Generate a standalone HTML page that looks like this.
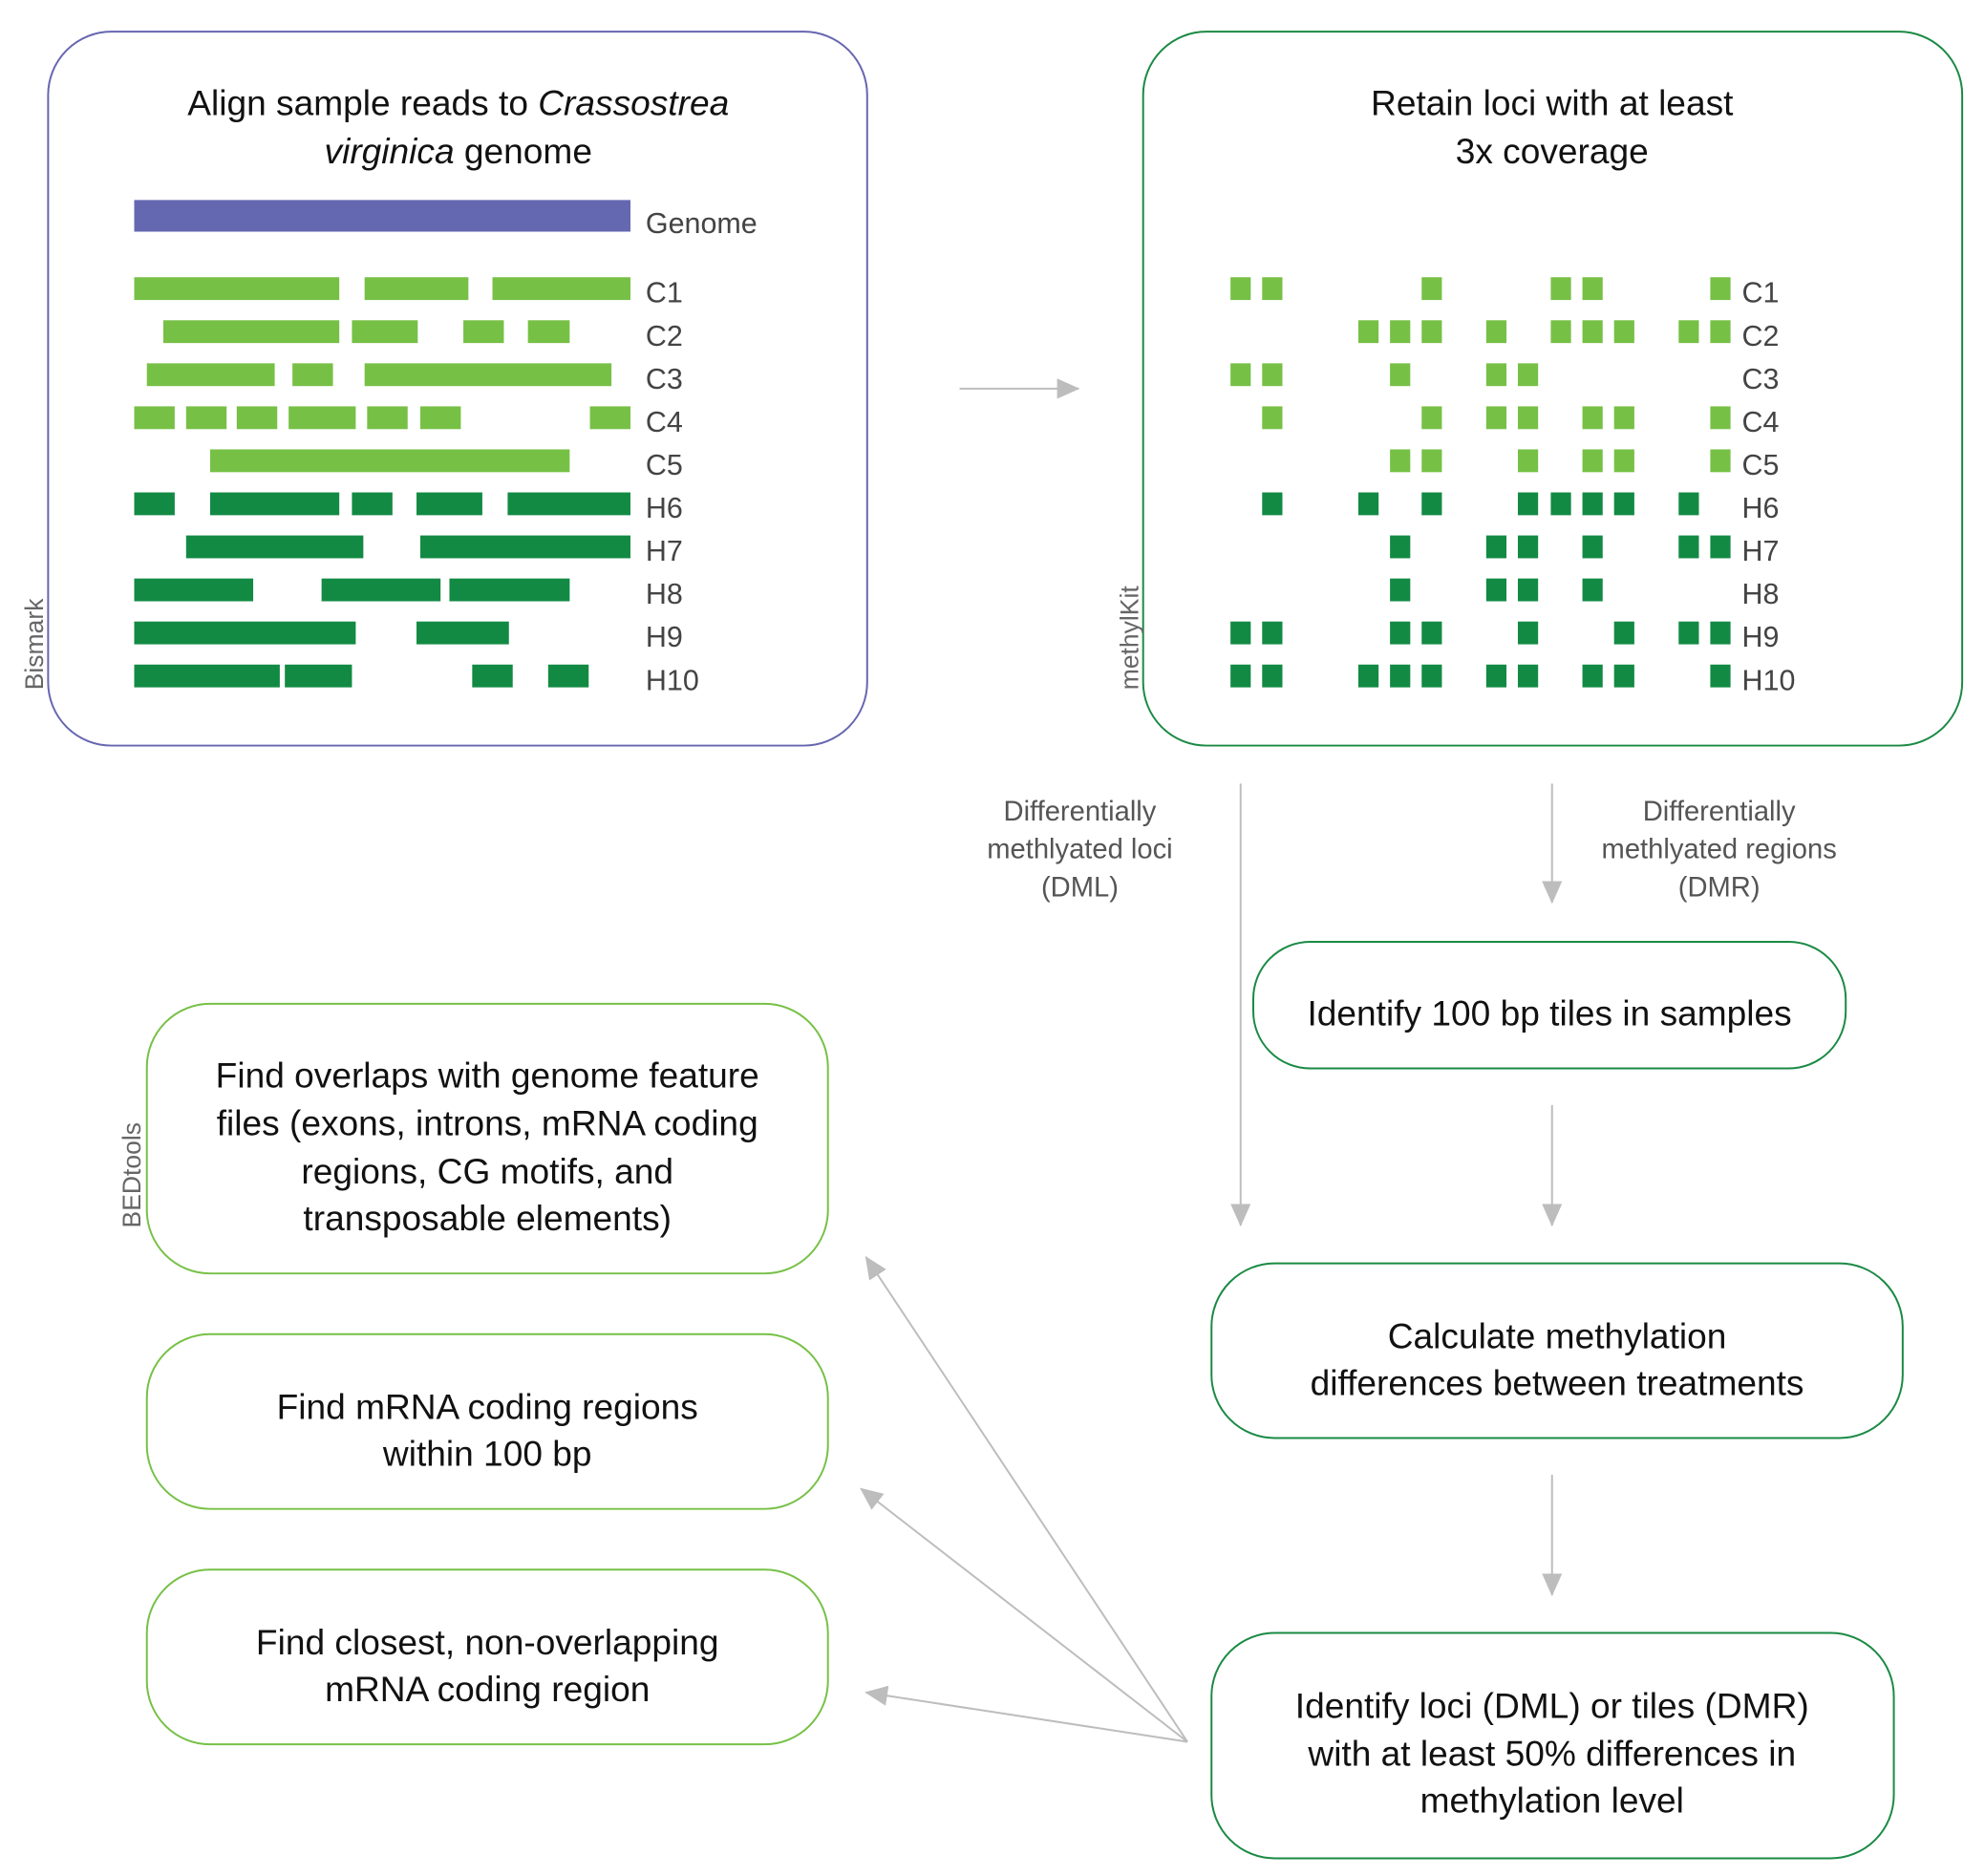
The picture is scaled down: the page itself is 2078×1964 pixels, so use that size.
<!DOCTYPE html>
<html><head><meta charset="utf-8"><style>
html,body{margin:0;padding:0;background:#fff;}
svg{display:block;}
text{font-family:"Liberation Sans",sans-serif;}
</style></head><body>
<svg width="2078" height="1964" viewBox="0 0 1568 1482" xmlns="http://www.w3.org/2000/svg">
<defs>
<marker id="ah" markerWidth="10" markerHeight="10" refX="9" refY="5" orient="auto" markerUnits="userSpaceOnUse">
<path d="M0,0 L10,5 L0,10 z" fill="#bdbdbd"/>
</marker>
<marker id="ah2" markerWidth="18" markerHeight="16" refX="17" refY="8" orient="auto" markerUnits="userSpaceOnUse">
<path d="M0,0 L18,8 L0,16 z" fill="#bdbdbd"/>
</marker>
</defs>
<rect width="1568" height="1482" fill="#fff"/>

<!-- Box 1 -->
<rect x="38" y="25" width="647" height="564" rx="50" fill="none" stroke="#6666b0" stroke-width="1.5"/>
<text x="362" y="91" font-size="28" text-anchor="middle" fill="#111">Align sample reads to <tspan font-style="italic">Crassostrea</tspan></text>
<text x="362" y="129" font-size="28" text-anchor="middle" fill="#111"><tspan font-style="italic">virginica</tspan> genome</text>
<rect x="106" y="158" width="392" height="25" fill="#6468b0"/>
<text x="510" y="184" font-size="23" fill="#444">Genome</text>
<g fill="#77c046">
<rect x="106" y="219" width="162" height="18"/><rect x="288" y="219" width="82" height="18"/><rect x="389" y="219" width="109" height="18"/>
<rect x="129" y="253" width="139" height="18"/><rect x="278" y="253" width="52" height="18"/><rect x="366" y="253" width="32" height="18"/><rect x="417" y="253" width="33" height="18"/>
<rect x="116" y="287" width="101" height="18"/><rect x="231" y="287" width="32" height="18"/><rect x="288" y="287" width="195" height="18"/>
<rect x="106" y="321" width="32" height="18"/><rect x="147" y="321" width="32" height="18"/><rect x="187" y="321" width="32" height="18"/><rect x="228" y="321" width="53" height="18"/><rect x="290" y="321" width="32" height="18"/><rect x="332" y="321" width="32" height="18"/><rect x="466" y="321" width="32" height="18"/>
<rect x="166" y="355" width="284" height="18"/>
</g>
<g fill="#128a44">
<rect x="106" y="389" width="32" height="18"/><rect x="166" y="389" width="102" height="18"/><rect x="278" y="389" width="32" height="18"/><rect x="329" y="389" width="52" height="18"/><rect x="401" y="389" width="97" height="18"/>
<rect x="147" y="423" width="140" height="18"/><rect x="332" y="423" width="166" height="18"/>
<rect x="106" y="457" width="94" height="18"/><rect x="254" y="457" width="94" height="18"/><rect x="355" y="457" width="95" height="18"/>
<rect x="106" y="491" width="175" height="18"/><rect x="329" y="491" width="73" height="18"/>
<rect x="106" y="525" width="115" height="18"/><rect x="225" y="525" width="53" height="18"/><rect x="373" y="525" width="32" height="18"/><rect x="433" y="525" width="32" height="18"/>
</g>
<g font-size="23" fill="#444">
<text x="510" y="239">C1</text><text x="510" y="273">C2</text><text x="510" y="307">C3</text><text x="510" y="341">C4</text><text x="510" y="375">C5</text>
<text x="510" y="409">H6</text><text x="510" y="443">H7</text><text x="510" y="477">H8</text><text x="510" y="511">H9</text><text x="510" y="545">H10</text>
</g>
<text transform="translate(34,545) rotate(-90)" font-size="20" fill="#666">Bismark</text>

<!-- Box 2 -->
<rect x="903" y="25" width="647" height="564" rx="50" fill="none" stroke="#1a8a44" stroke-width="1.5"/>
<text x="1226" y="91" font-size="28" text-anchor="middle" fill="#111">Retain loci with at least</text>
<text x="1226" y="129" font-size="28" text-anchor="middle" fill="#111">3x coverage</text>
<g fill="#77c046">
<rect x="972" y="219" width="16" height="18"/><rect x="997" y="219" width="16" height="18"/><rect x="1123" y="219" width="16" height="18"/><rect x="1225" y="219" width="16" height="18"/><rect x="1250" y="219" width="16" height="18"/><rect x="1351" y="219" width="16" height="18"/>
<rect x="1073" y="253" width="16" height="18"/><rect x="1098" y="253" width="16" height="18"/><rect x="1123" y="253" width="16" height="18"/><rect x="1174" y="253" width="16" height="18"/><rect x="1225" y="253" width="16" height="18"/><rect x="1250" y="253" width="16" height="18"/><rect x="1275" y="253" width="16" height="18"/><rect x="1326" y="253" width="16" height="18"/><rect x="1351" y="253" width="16" height="18"/>
<rect x="972" y="287" width="16" height="18"/><rect x="997" y="287" width="16" height="18"/><rect x="1098" y="287" width="16" height="18"/><rect x="1174" y="287" width="16" height="18"/><rect x="1199" y="287" width="16" height="18"/>
<rect x="997" y="321" width="16" height="18"/><rect x="1123" y="321" width="16" height="18"/><rect x="1174" y="321" width="16" height="18"/><rect x="1199" y="321" width="16" height="18"/><rect x="1250" y="321" width="16" height="18"/><rect x="1275" y="321" width="16" height="18"/><rect x="1351" y="321" width="16" height="18"/>
<rect x="1098" y="355" width="16" height="18"/><rect x="1123" y="355" width="16" height="18"/><rect x="1199" y="355" width="16" height="18"/><rect x="1250" y="355" width="16" height="18"/><rect x="1275" y="355" width="16" height="18"/><rect x="1351" y="355" width="16" height="18"/>
</g>
<g fill="#128a44">
<rect x="997" y="389" width="16" height="18"/><rect x="1073" y="389" width="16" height="18"/><rect x="1123" y="389" width="16" height="18"/><rect x="1199" y="389" width="16" height="18"/><rect x="1225" y="389" width="16" height="18"/><rect x="1250" y="389" width="16" height="18"/><rect x="1275" y="389" width="16" height="18"/><rect x="1326" y="389" width="16" height="18"/>
<rect x="1098" y="423" width="16" height="18"/><rect x="1174" y="423" width="16" height="18"/><rect x="1199" y="423" width="16" height="18"/><rect x="1250" y="423" width="16" height="18"/><rect x="1326" y="423" width="16" height="18"/><rect x="1351" y="423" width="16" height="18"/>
<rect x="1098" y="457" width="16" height="18"/><rect x="1174" y="457" width="16" height="18"/><rect x="1199" y="457" width="16" height="18"/><rect x="1250" y="457" width="16" height="18"/>
<rect x="972" y="491" width="16" height="18"/><rect x="997" y="491" width="16" height="18"/><rect x="1098" y="491" width="16" height="18"/><rect x="1123" y="491" width="16" height="18"/><rect x="1199" y="491" width="16" height="18"/><rect x="1275" y="491" width="16" height="18"/><rect x="1326" y="491" width="16" height="18"/><rect x="1351" y="491" width="16" height="18"/>
<rect x="972" y="525" width="16" height="18"/><rect x="997" y="525" width="16" height="18"/><rect x="1073" y="525" width="16" height="18"/><rect x="1098" y="525" width="16" height="18"/><rect x="1123" y="525" width="16" height="18"/><rect x="1174" y="525" width="16" height="18"/><rect x="1199" y="525" width="16" height="18"/><rect x="1250" y="525" width="16" height="18"/><rect x="1275" y="525" width="16" height="18"/><rect x="1351" y="525" width="16" height="18"/>
</g>
<g font-size="23" fill="#444">
<text x="1376" y="239">C1</text><text x="1376" y="273">C2</text><text x="1376" y="307">C3</text><text x="1376" y="341">C4</text><text x="1376" y="375">C5</text>
<text x="1376" y="409">H6</text><text x="1376" y="443">H7</text><text x="1376" y="477">H8</text><text x="1376" y="511">H9</text><text x="1376" y="545">H10</text>
</g>
<text transform="translate(899,545) rotate(-90)" font-size="20" fill="#666">methylKit</text>

<!-- connectors -->
<g stroke="#bdbdbd" stroke-width="1.5" fill="none">
<line x1="758" y1="307" x2="852" y2="307" marker-end="url(#ah2)"/>
<line x1="980" y1="619" x2="980" y2="968" marker-end="url(#ah2)"/>
<line x1="1226" y1="619" x2="1226" y2="713" marker-end="url(#ah2)"/>
<line x1="1226" y1="873" x2="1226" y2="968" marker-end="url(#ah2)"/>
<line x1="1226" y1="1165" x2="1226" y2="1260" marker-end="url(#ah2)"/>
<line x1="938" y1="1376" x2="684" y2="993" marker-end="url(#ah2)"/>
<line x1="938" y1="1376" x2="680" y2="1176" marker-end="url(#ah2)"/>
<line x1="938" y1="1376" x2="684" y2="1337" marker-end="url(#ah2)"/>
</g>
<g font-size="22" fill="#555" text-anchor="middle">
<text x="853" y="648">Differentially</text><text x="853" y="678">methlyated loci</text><text x="853" y="708">(DML)</text>
<text x="1358" y="648">Differentially</text><text x="1358" y="678">methlyated regions</text><text x="1358" y="708">(DMR)</text>
</g>

<!-- right boxes -->
<g fill="none" stroke="#1a8a44" stroke-width="1.5">
<rect x="990" y="744" width="468" height="100" rx="45"/>
<rect x="957" y="998" width="546" height="138" rx="50"/>
<rect x="957" y="1290" width="539" height="178" rx="50"/>
</g>
<g font-size="28" fill="#111" text-anchor="middle">
<text x="1224" y="810">Identify 100 bp tiles in samples</text>
<text x="1230" y="1065">Calculate methylation</text><text x="1230" y="1102">differences between treatments</text>
<text x="1226" y="1357">Identify loci (DML) or tiles (DMR)</text><text x="1226" y="1395">with at least 50% differences in</text><text x="1226" y="1432">methylation level</text>
</g>

<!-- left boxes -->
<g fill="none" stroke="#77c046" stroke-width="1.5">
<rect x="116" y="793" width="538" height="213" rx="50"/>
<rect x="116" y="1054" width="538" height="138" rx="50"/>
<rect x="116" y="1240" width="538" height="138" rx="50"/>
</g>
<g font-size="28" fill="#111" text-anchor="middle">
<text x="385" y="859">Find overlaps with genome feature</text><text x="385" y="897">files (exons, introns, mRNA coding</text><text x="385" y="935">regions, CG motifs, and</text><text x="385" y="972">transposable elements)</text>
<text x="385" y="1121">Find mRNA coding regions</text><text x="385" y="1158">within 100 bp</text>
<text x="385" y="1307">Find closest, non-overlapping</text><text x="385" y="1344">mRNA coding region</text>
</g>
<text transform="translate(111,970) rotate(-90)" font-size="20" fill="#666">BEDtools</text>
</svg>
</body></html>
